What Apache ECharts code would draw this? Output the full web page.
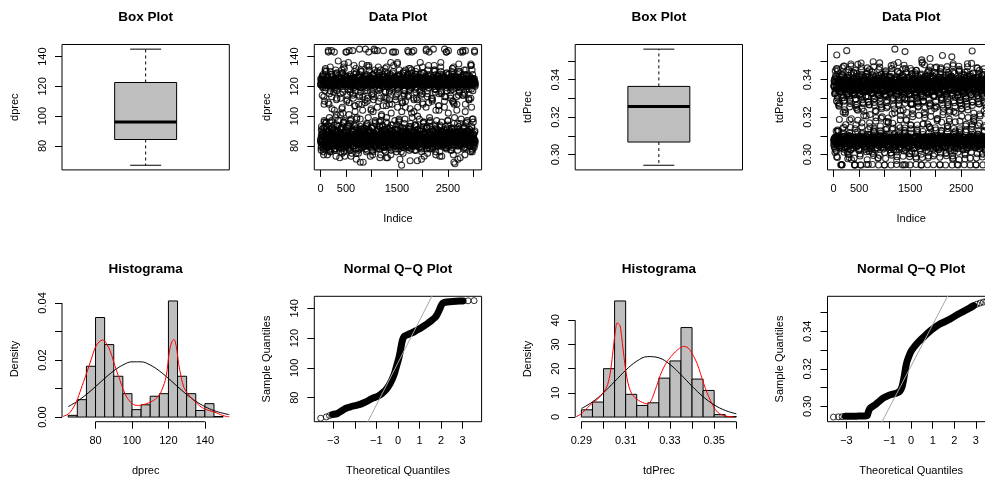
<!DOCTYPE html>
<html>
<head>
<meta charset="utf-8">
<script src="https://cdn.jsdelivr.net/npm/echarts@6/dist/echarts.min.js"></script>
<style>
  html, body { margin: 0; padding: 0; background: #fff; }
  #chart { width: 985px; height: 481px; }
</style>
</head>
<body>
<div id="chart"></div>
<script>
// ---------------------------------------------------------------
// Raw readings, four interleaved sets taken every 6th observation:
// set A starts at observation 1, B at 4, C at 2 and D at 5.
// ---------------------------------------------------------------
const nObs = 3039;
const obsStep = 6;
const obsOffsets = [1, 4, 2, 5];

const dprecObsA = [
  84,122,79,91,124,83,126,88,121,76,82,113,97,123,86,131,81,119,93,125,
  87,121,83,74,127,90,122,85,108,80,124,96,133,82,123,78,144,89,120,84,
  92,123,81,116,86,125,77,121,83,99,128,88,111,122,80,94,124,85,137,82,
  79,122,86,72,126,84,120,91,123,81,105,87,129,83,118,96,121,76,132,88,
  85,124,82,143,89,122,80,114,93,125,84,121,78,101,86,127,83,123,97,81,
  122,88,75,125,83,120,90,112,84,124,80,130,87,117,82,122,94,71,126,86,
  81,121,89,123,77,108,85,128,83,124,98,82,119,91,122,79,135,86,113,84,
  123,87,80,125,92,121,84,145,88,122,76,127,83,110,95,124,81,120,86,131,
  82,124,90,73,122,85,126,79,115,87,121,83,103,93,123,80,129,88,144,84,
  125,81,86,122,78,118,91,124,83,133,89,121,96,82,127,85,112,80,123,87,
  83,122,94,126,80,107,86,121,77,124,84,130,90,116,82,123,99,88,125,72,
  120,85,79,123,87,111,83,128,92,122,74,125,86,119,81,143,89,124,84,134,
  86,121,82,97,124,80,126,88,114,84,122,91,106,83,127,78,121,85,131,93,
  124,83,87,122,76,67,85,125,81,109,90,123,84,129,95,82,117,88,122,80,
  82,126,89,123,84,113,79,121,86,132,83,124,92,70,122,87,127,81,102,85,
  121,88,83,125,80,144,86,122,94,118,82,124,77,128,89,123,84,111,91,126,
  85,122,81,98,123,87,136,83,120,90,125,79,115,86,121,84,129,93,124,73,
  123,80,88,121,84,106,92,126,82,122,75,131,86,119,83,124,96,89,127,81,
  87,124,83,112,85,122,78,125,90,145,82,121,86,130,84,116,94,123,80,126,
  122,84,91,127,82,120,88,104,83,124,73,123,86,133,81,117,89,121,85,128,
  83,125,80,122,87,110,84,126,93,121,79,143,85,124,82,128,97,88,120,86,
  124,81,89,121,85,114,77,123,84,130,91,122,83,118,87,125,69,108,92,127,
  86,122,82,126,88,113,84,124,95,71,121,83,135,87,123,81,119,90,125,85,
  121,83,87,124,80,144,86,122,92,128,84,115,74,123,89,131,82,120,96,85,
  84,123,81,127,88,112,83,122,91,125,76,121,86,134,82,124,98,87,117,80,
  125,85,82,122,89,123,83
];

const dprecObsB = [
  121,85,124,80,88,127,83,119,92,122,78,125,86,110,81,123,95,84,130,89,
  82,123,87,126,79,144,84,121,91,115,86,124,76,128,83,122,97,88,120,81,
  124,80,86,122,83,104,90,125,85,121,73,129,87,117,82,123,93,84,126,79,
  88,122,81,125,85,112,92,123,78,131,84,121,89,102,83,124,96,86,127,82,
  123,84,90,121,80,143,87,126,83,118,94,122,81,109,85,125,77,128,88,120,
  85,124,82,123,89,114,80,122,86,134,91,125,83,107,87,121,75,124,99,84,
  122,87,83,126,81,120,88,145,85,123,93,116,79,124,84,130,90,121,86,69,
  80,125,86,122,84,111,89,127,82,121,95,123,77,119,87,124,83,133,91,85,
  126,83,88,121,81,105,86,124,92,122,74,128,84,113,89,123,80,120,97,87,
  84,123,80,125,87,144,83,121,90,117,85,126,78,122,93,131,82,124,88,101,
  122,86,84,124,79,120,91,127,83,123,87,112,81,125,96,72,121,85,129,89,
  87,121,82,126,85,108,90,123,80,136,84,122,88,118,83,125,94,86,124,81,
  125,82,89,122,84,143,87,121,76,127,83,115,91,124,85,120,98,80,123,86,
  83,124,86,121,81,110,88,125,92,122,79,130,85,117,87,123,82,106,90,126,
  121,85,80,123,87,128,83,114,89,124,77,122,84,132,95,125,86,119,81,143,
  86,122,83,125,90,103,85,121,80,127,88,124,82,112,93,123,70,126,87,84,
  124,81,87,122,85,117,91,126,83,121,78,129,86,109,84,123,96,88,120,82,
  89,123,84,127,80,144,86,122,93,115,83,125,88,134,81,121,99,85,124,87,
  122,84,82,124,86,111,79,123,90,126,85,120,83,131,89,125,76,118,92,86,
  85,121,88,125,83,107,87,122,81,128,94,124,84,116,86,123,73,127,90,82,
  123,86,81,122,89,145,84,126,87,113,82,121,91,129,85,124,97,80,122,88,
  82,125,85,123,88,119,83,121,92,126,79,110,86,124,84,133,90,122,87,68,
  126,83,87,121,84,104,89,124,80,122,86,130,93,117,82,125,88,143,85,123,
  84,122,90,127,82,114,86,123,78,121,88,125,83,108,95,124,81,128,87,120,
  121,87,83,124,85,118,91,122,80,126,84,112,89,123,77,131,86,125,98,82,
  88,124,84,144,81,122
];

const dprecObsC = [
  83,121,77,93,125,86,120,81,128,89,74,123,96,84,117,88,132,80,122,91,
  122,79,85,126,82,109,90,124,87,99,121,76,130,84,123,92,113,81,127,86,
  80,124,88,121,94,143,83,118,78,125,86,122,101,82,129,90,123,85,97,120,
  126,84,81,123,89,115,76,122,92,128,83,106,87,124,80,133,95,121,85,73,
  85,122,91,127,79,120,84,111,88,124,82,136,93,121,77,125,87,116,83,98,
  123,81,86,125,90,144,80,121,84,119,94,126,88,103,82,122,78,129,85,92,
  88,124,83,120,75,127,89,114,81,123,69,131,86,122,84,108,91,125,79,121,
  121,90,82,126,87,117,84,124,78,122,93,128,85,112,80,123,99,86,134,83,
  84,125,89,122,81,104,92,121,86,127,77,124,83,115,88,145,80,123,95,87,
  124,86,79,121,85,130,91,123,82,110,88,126,84,119,72,122,97,83,125,90,
  82,123,87,128,93,120,80,113,86,124,84,132,76,122,89,107,83,126,92,121,
  125,81,88,122,84,116,90,127,79,121,86,102,94,124,82,129,87,123,85,143,
  89,121,83,124,78,111,85,126,91,122,81,135,87,118,84,123,96,80,128,86,
  122,84,92,125,80,120,86,109,83,124,75,127,89,114,82,121,98,88,131,85,
  86,124,81,121,88,144,84,123,93,117,79,126,85,105,90,122,83,129,87,120,
  123,88,84,127,82,112,89,124,77,121,94,130,86,119,81,125,91,100,84,122,
  81,125,87,122,90,116,83,128,85,123,71,121,88,133,82,108,95,124,86,126,
  124,83,89,121,84,120,78,125,92,113,86,122,80,128,87,143,83,123,97,85,
  87,122,82,126,91,110,85,124,79,121,88,131,84,118,93,123,81,104,86,125,
  122,85,80,124,87,127,83,115,90,121,76,125,84,136,89,122,96,82,120,88,
  84,123,91,121,86,106,81,126,88,124,83,129,78,117,85,122,94,87,144,82,
  125,88,83,122,80,112,86,127,92,120,84,132,89,123,74,109,85,124,99,81,
  86,121,82,125,89,119,84,122,77,128,90,114,83,123,87,130,81,121,95,85,
  123,84,88,126,81,143,85,121,93,116,79,124,87,103,83,127,90,122,86,97,
  82,124,86,121,90,111,84,125,80,122,88,134,83,118,92,123,76,128,85,121,
  87,123,79,125,84,120
];

const dprecObsD = [
  125,82,87,121,90,114,84,123,79,127,86,108,92,122,81,130,88,124,96,83,
  84,122,80,126,88,143,85,120,93,124,77,117,86,123,82,128,91,105,87,121,
  122,87,83,125,78,119,89,122,85,131,81,124,94,112,86,121,80,127,90,84,
  88,123,84,121,91,101,82,126,87,122,75,129,85,116,89,124,83,135,97,80,
  121,86,81,124,89,110,84,123,92,127,79,121,87,144,83,125,95,118,85,73,
  83,125,90,122,85,115,80,121,88,128,84,107,93,123,86,132,82,120,98,87,
  124,81,87,122,84,126,91,113,78,123,86,130,83,119,89,121,85,104,92,125,
  86,121,82,127,88,109,85,124,80,122,94,134,87,117,83,123,90,143,84,126,
  122,89,84,125,81,120,87,114,92,121,76,128,85,111,88,124,82,131,96,86,
  85,124,80,122,90,106,83,126,87,123,81,129,93,118,86,121,74,125,89,100,
  123,84,88,121,82,144,86,124,79,127,91,116,84,122,87,133,83,112,95,85,
  81,122,89,125,85,117,92,121,83,128,77,123,86,108,90,124,84,130,88,120,
  126,87,82,123,86,113,80,125,94,121,85,136,88,119,83,122,97,87,127,71,
  84,121,90,124,81,103,87,122,85,129,79,125,92,115,86,123,82,110,89,121,
  122,83,86,127,88,120,84,143,91,124,80,118,85,126,93,122,78,131,87,99,
  87,125,83,121,89,111,82,123,86,128,94,116,84,124,80,132,88,106,85,122,
  124,85,79,122,87,126,90,114,83,121,76,125,88,119,84,123,96,81,129,86,
  83,123,88,125,85,145,81,122,92,117,86,127,84,109,89,121,78,124,93,82,
  121,86,84,124,80,112,87,126,90,122,83,134,85,118,91,123,74,128,88,97,
  85,122,89,127,82,120,86,107,84,125,93,121,80,130,87,115,83,123,90,126,
  123,88,81,121,86,113,84,125,79,122,89,143,85,119,92,124,82,102,87,128,
  86,124,83,122,90,117,85,121,77,126,88,132,84,110,81,123,95,127,86,121,
  122,84,87,125,83,108,91,123,85,120,80,129,88,116,84,124,72,121,89,98,
  81,123,86,126,88,114,84,122,92,131,79,125,85,144,87,121,83,118,90,124,
  124,85,89,121,82,111,86,127,80,123,87,135,84,106,93,122,78,125,88,96,
  85,122,83,143,90,121
];

const tdPrecObsA = [
  0.3072,0.3368,0.3041,0.3385,0.3325,0.3089,0.3412,0.3063,0.3351,0.3018,0.3531,0.3095,0.3302,0.3447,0.3057,0.3391,0.3124,0.3338,0.3078,0.3271,
  0.3359,0.3066,0.3394,0.2946,0.3318,0.3083,0.3372,0.3034,0.3463,0.3097,0.3345,0.3226,0.3069,0.3381,0.3012,0.3289,0.3406,0.3075,0.3362,0.3159,
  0.3081,0.3347,0.3058,0.3398,0.3106,0.3334,0.2978,0.3379,0.3068,0.3421,0.3091,0.3311,0.3254,0.3086,0.3366,0.3027,0.3483,0.3071,0.3353,0.3387,
  0.3062,0.3374,0.3047,0.3329,0.3093,0.3437,0.3076,0.3358,0.2945,0.3392,0.3138,0.3296,0.3084,0.3369,0.3039,0.3343,0.3241,0.3065,0.3401,0.3183,
  0.3383,0.3079,0.3352,0.3024,0.3415,0.3067,0.3321,0.3098,0.3373,0.2943,0.3468,0.3073,0.3337,0.3116,0.3362,0.3055,0.3279,0.3388,0.3082,0.3346,
  0.3069,0.3395,0.3043,0.3361,0.3087,0.3309,0.3206,0.3064,0.3378,0.3031,0.3432,0.3094,0.3341,0.2947,0.3386,0.3077,0.3264,0.3354,0.3148,0.3371,
  0.3085,0.3349,0.3052,0.3404,0.3074,0.3327,0.3014,0.3382,0.3099,0.3495,0.3061,0.3365,0.3121,0.3296,0.3071,0.3357,0.3233,0.3088,0.3419,0.3036,
  0.3376,0.3066,0.3342,0.3092,0.3389,0.2983,0.3318,0.3079,0.3453,0.3046,0.3367,0.3103,0.3283,0.3073,0.3392,0.3194,0.3059,0.3355,0.3086,0.3409,
  0.3064,0.3381,0.3029,0.3336,0.3097,0.3373,0.2944,0.3427,0.3068,0.3313,0.3133,0.3362,0.3081,0.3249,0.3049,0.3398,0.3076,0.3349,0.3171,0.3386,
  0.3359,0.3083,0.3412,0.3057,0.3328,0.3091,0.3375,0.3008,0.3474,0.3072,0.3344,0.3216,0.3094,0.3391,0.3038,0.3301,0.3363,0.3069,0.3383,0.3112,
  0.3562,0.3352,0.3044,0.3397,0.3087,0.3323,0.2969,0.3369,0.3062,0.3441,0.3099,0.3338,0.3271,0.3075,0.3384,0.3026,0.3357,0.3143,0.3406,0.3066,
  0.3388,0.3071,0.3346,0.3053,0.3413,0.3084,0.3306,0.3237,0.3067,0.3371,0.2946,0.3395,0.3093,0.3332,0.3119,0.3458,0.3061,0.3364,0.3035,0.3291,
  0.3073,0.3379,0.3048,0.3339,0.3096,0.3403,0.3063,0.3356,0.3004,0.3319,0.3088,0.3387,0.3158,0.3268,0.3077,0.3424,0.3052,0.3348,0.3202,0.3374,
  0.3351,0.3086,0.3393,0.3033,0.3331,0.3069,0.3436,0.3095,0.3366,0.2987,0.3385,0.3074,0.3297,0.3128,0.3361,0.3058,0.3253,0.3408,0.3082,0.3343,
  0.3065,0.3372,0.3021,0.3396,0.3091,0.3316,0.2945,0.3382,0.3078,0.3487,0.3046,0.3353,0.3107,0.3284,0.3072,0.3369,0.3224,0.3094,0.3418,0.3059,
  0.3384,0.3068,0.3347,0.3041,0.3399,0.3085,0.3326,0.3163,0.3376,0.3013,0.3445,0.3079,0.3358,0.3097,0.3274,0.3512,0.3391,0.3136,0.3337,0.3071,
  0.3076,0.3363,0.3054,0.3411,0.3089,0.3335,0.2993,0.3378,0.3067,0.3309,0.3246,0.3083,0.3397,0.3037,0.3354,0.3098,0.3466,0.3062,0.3381,0.3189,
  0.3345,0.3074,0.3389,0.3028,0.3322,0.3092,0.3371,0.2944,0.3428,0.3061,0.3359,0.3115,0.3293,0.3081,0.3402,0.3047,0.3366,0.3212,0.3087,0.3377,
  0.3063,0.3392,0.3039,0.3341,0.3095,0.3383,0.3006,0.3314,0.3077,0.3451,0.3058,0.3368,0.3139,0.3259,0.3072,0.3394,0.3085,0.3352,0.3176,0.3408,
  0.3373,0.3081,0.3356,0.3019,0.3417,0.3066,0.3329,0.3093,0.3386,0.2975,0.3439,0.3075,0.3344,0.3229,0.3062,0.3379,0.3042,0.3305,0.3126,0.3362,
  0.3084,0.3349,0.3061,0.3396,0.2947,0.3332,0.3073,0.3374,0.3032,0.3471,0.3096,0.3357,0.3118,0.3287,0.3069,0.3401,0.3056,0.3339,0.3245,0.3385,
  0.3367,0.3078,0.3391,0.3045,0.3324,0.3089,0.3412,0.3064,0.3353,0.3009,0.3381,0.3152,0.3298,0.3083,0.3364,0.3027,0.3443,0.3071,0.3346,0.3197,
  0.3059,0.3388,0.3076,0.3335,0.3092,0.3404,0.2981,0.3369,0.3067,0.3317,0.3135,0.3359,0.3085,0.3262,0.3051,0.3395,0.3098,0.3354,0.3221,0.3376,
  0.3342,0.3079,0.3398,0.3036,0.3327,0.2945,0.3383,0.3065,0.3462,0.3088,0.3361,0.3109,0.3281,0.3074,0.3414,0.3043,0.3348,0.3167,0.3373,0.3063,
  0.3087,0.3365,0.3053,0.3389,0.3094,0.3319,0.3002,0.3377,0.3071,0.3426,0.3058,0.3344,0.3233,0.3082,0.3392,0.3024,0.3367,0.3147,0.3405,0.3068,
  0.3072,0.3079,0.3351,0.3358,0.3086,0.3064,0.3376
];

const tdPrecObsB = [
  0.3081,0.3362,0.3057,0.3405,0.3093,0.3331,0.3023,0.3387,0.3068,0.3459,0.3076,0.3348,0.3131,0.3276,0.3062,0.3393,0.3088,0.3356,0.3187,0.3374,
  0.3368,0.3074,0.3397,0.3048,0.3334,0.3091,0.3421,0.2946,0.3359,0.3065,0.3382,0.3113,0.3303,0.3079,0.3472,0.3038,0.3351,0.3219,0.3086,0.3388,
  0.3059,0.3379,0.3554,0.3344,0.3016,0.3412,0.3072,0.3326,0.3097,0.3366,0.2984,0.3395,0.3067,0.3285,0.3144,0.3358,0.3053,0.3436,0.3081,0.3341,
  0.3386,0.3063,0.3353,0.3092,0.3401,0.3035,0.3319,0.3078,0.3373,0.2945,0.3448,0.3069,0.3337,0.3251,0.3095,0.3384,0.3044,0.3363,0.3122,0.3392,
  0.3075,0.3346,0.3061,0.3391,0.3087,0.3312,0.3003,0.3377,0.3094,0.3488,0.3058,0.3359,0.3169,0.3292,0.3073,0.3414,0.3049,0.3335,0.3231,0.3369,
  0.3357,0.3085,0.3383,0.3027,0.3342,0.3066,0.3429,0.3099,0.3365,0.2972,0.3396,0.3079,0.3308,0.3108,0.3376,0.3055,0.3267,0.3453,0.3071,0.3349,
  0.3064,0.3391,0.3046,0.3363,0.3089,0.3326,0.2947,0.3384,0.3073,0.3419,0.3091,0.3344,0.3141,0.3278,0.3058,0.3398,0.3083,0.3355,0.3196,0.3381,
  0.3372,0.3077,0.3349,0.3033,0.3407,0.3094,0.3321,0.3062,0.3389,0.2996,0.3466,0.3081,0.3338,0.3127,0.3367,0.3051,0.3244,0.3393,0.3086,0.3352,
  0.3088,0.3369,0.3052,0.3396,0.3074,0.3315,0.3011,0.3374,0.3097,0.3441,0.3065,0.3361,0.3109,0.3288,0.3079,0.3403,0.3042,0.3347,0.3174,0.3385,
  0.3354,0.3068,0.3387,0.3039,0.3336,0.3085,0.3416,0.2944,0.3364,0.3072,0.3397,0.3134,0.3299,0.3091,0.3378,0.3026,0.3479,0.3063,0.3343,0.3222,
  0.3071,0.3382,0.3045,0.3358,0.3096,0.3404,0.2988,0.3323,0.3082,0.3371,0.3057,0.3392,0.3155,0.3263,0.3069,0.3433,0.3093,0.3346,0.3208,0.3377,
  0.3366,0.3084,0.3394,0.3031,0.3328,0.3076,0.3457,0.3061,0.3351,0.3019,0.3385,0.3112,0.3295,0.3088,0.3373,0.2946,0.3362,0.3182,0.3067,0.3408,
  0.3058,0.3375,0.3079,0.3339,0.3092,0.3411,0.3047,0.3368,0.3005,0.3317,0.3086,0.3389,0.3137,0.3274,0.3073,0.3447,0.3064,0.3357,0.3239,0.3383,
  0.3379,0.3065,0.3351,0.3094,0.3393,0.3037,0.3332,0.3071,0.3426,0.2979,0.3363,0.3083,0.3306,0.3118,0.3397,0.3054,0.3258,0.3369,0.3098,0.3346,
  0.3082,0.3358,0.3063,0.3384,0.3075,0.3324,0.2945,0.3371,0.3089,0.3493,0.3052,0.3347,0.3162,0.3286,0.3068,0.3402,0.3095,0.3361,0.3213,0.3376,
  0.3347,0.3076,0.3398,0.3022,0.3337,0.3091,0.3418,0.3066,0.3372,0.2992,0.3451,0.3074,0.3329,0.3145,0.3387,0.3049,0.3269,0.3356,0.3084,0.3391,
  0.3069,0.3365,0.3055,0.3406,0.3097,0.3313,0.3028,0.3381,0.3078,0.3437,0.3062,0.3354,0.3104,0.3281,0.3086,0.3395,0.3041,0.3368,0.3192,0.3359,
  0.3385,0.3072,0.3343,0.3036,0.3409,0.3087,0.3327,0.2947,0.3377,0.3065,0.3462,0.3129,0.3301,0.3093,0.3366,0.3528,0.3394,0.3227,0.3079,0.3352,
  0.3061,0.3388,0.3083,0.3334,0.3046,0.3414,0.3074,0.3362,0.3009,0.3322,0.3096,0.3376,0.3153,0.3266,0.3067,0.3428,0.3058,0.3345,0.3235,0.3397,
  0.3373,0.3089,0.3356,0.3043,0.3401,0.3068,0.3314,0.3081,0.3382,0.2981,0.3484,0.3072,0.3342,0.3117,0.3369,0.3034,0.3256,0.3392,0.3094,0.3348,
  0.3077,0.3367,0.3059,0.3391,0.3085,0.3331,0.2944,0.3379,0.3066,0.3445,0.3092,0.3358,0.3178,0.3291,0.3071,0.3405,0.3048,0.3364,0.3204,0.3386,
  0.3359,0.3075,0.3388,0.3025,0.3325,0.3093,0.3423,0.3063,0.3353,0.2999,0.3398,0.3081,0.3309,0.3132,0.3374,0.3056,0.3272,0.3468,0.3069,0.3343,
  0.3084,0.3376,0.3051,0.3346,0.3097,0.3417,0.3038,0.3384,0.3073,0.3318,0.3065,0.3395,0.3149,0.3279,0.3089,0.3435,0.3062,0.3352,0.3186,0.3371,
  0.3381,0.3067,0.3349,0.3091,0.3396,0.2946,0.3336,0.3078,0.3411,0.3044,0.3366,0.3106,0.3297,0.3084,0.3379,0.3029,0.3449,0.3216,0.3071,0.3357,
  0.3066,0.3392,0.3088,0.3338,0.3054,0.3424,0.3007,0.3369,0.3095,0.3311,0.3072,0.3383,0.3121,0.3284,0.3061,0.3399,0.3079,0.3344,0.3248,0.3375,
  0.3338,0.3082,0.3409,0.3361,0.3046,0.3058
];

const tdPrecObsC = [
  0.3052,0.3391,0.3087,0.3324,0.3011,0.3447,0.3068,0.3362,0.3125,0.3286,0.3079,0.3405,0.2985,0.3351,0.3094,0.3377,0.3061,0.3258,0.3418,0.3036,
  0.3369,0.3074,0.3335,0.3047,0.3392,0.2946,0.3426,0.3083,0.3303,0.3139,0.3359,0.3066,0.3471,0.3028,0.3382,0.3097,0.3239,0.3344,0.3071,0.3398,
  0.3089,0.3356,0.3043,0.3411,0.3076,0.3317,0.3003,0.3387,0.3062,0.3452,0.3101,0.3365,0.3184,0.3272,0.3057,0.3394,0.3085,0.3338,0.2974,0.3379,
  0.3363,0.3069,0.3403,0.3034,0.3328,0.3092,0.3436,0.3058,0.3374,0.2945,0.3349,0.3118,0.3295,0.3081,0.3415,0.3046,0.3267,0.3388,0.3073,0.3481,
  0.3078,0.3381,0.3022,0.3346,0.3095,0.3399,0.2992,0.3321,0.3066,0.3428,0.3087,0.3358,0.3147,0.3246,0.3054,0.3372,0.3099,0.3407,0.3208,0.3343,
  0.3392,0.3063,0.3339,0.3041,0.3417,0.3079,0.3309,0.2947,0.3384,0.3072,0.3462,0.3108,0.3282,0.3091,0.3366,0.3017,0.3395,0.3169,0.3067,0.3352,
  0.3057,0.3373,0.3086,0.3331,0.3031,0.3441,0.3075,0.3389,0.3006,0.3314,0.3093,0.3361,0.3132,0.3261,0.3064,0.3409,0.3082,0.3347,0.3229,0.3386,
  0.3346,0.3084,0.3397,0.3049,0.3327,0.2979,0.3421,0.3069,0.3368,0.3098,0.3489,0.3074,0.3301,0.3113,0.3383,0.3039,0.3253,0.3354,0.3088,0.3412,
  0.3071,0.3388,0.3053,0.3342,0.3096,0.3404,0.2944,0.3376,0.3062,0.3431,0.3085,0.3318,0.3176,0.3277,0.3048,0.3367,0.3092,0.3396,0.3195,0.3357,
  0.3378,0.3066,0.3351,0.3027,0.3414,0.3083,0.3322,0.3072,0.3393,0.2997,0.3458,0.3094,0.3336,0.3141,0.3371,0.3059,0.3263,0.3385,0.3077,0.3347,
  0.3085,0.3362,0.3044,0.3399,0.3073,0.3311,0.3014,0.3382,0.3091,0.3444,0.3065,0.3355,0.3119,0.3289,0.3081,0.3408,0.3037,0.3369,0.3234,0.3391,
  0.3359,0.3078,0.3384,0.3055,0.3333,0.2945,0.3418,0.3063,0.3375,0.3089,0.3476,0.3129,0.3297,0.3549,0.3401,0.3024,0.3349,0.3187,0.3096,0.3388,
  0.3062,0.3396,0.3081,0.3337,0.3042,0.3413,0.3076,0.3363,0.2989,0.3325,0.3094,0.3372,0.3157,0.3268,0.3068,0.3432,0.3051,0.3353,0.3217,0.3394,
  0.3371,0.3088,0.3345,0.3033,0.3406,0.3069,0.3319,0.3097,0.3386,0.2947,0.3449,0.3075,0.3328,0.3136,0.3377,0.3046,0.3274,0.3398,0.3083,0.3356,
  0.3074,0.3387,0.3059,0.3353,0.3092,0.3423,0.3002,0.3365,0.3079,0.3308,0.3067,0.3391,0.3164,0.3283,0.3086,0.3411,0.3038,0.3341,0.3249,0.3374,
  0.3364,0.3071,0.3399,0.3048,0.3331,0.3093,0.3437,0.3061,0.3358,0.2983,0.3383,0.3115,0.3292,0.3084,0.3409,0.3032,0.3467,0.3203,0.3077,0.3345,
  0.3089,0.3376,0.3045,0.3339,0.3065,0.3416,0.2946,0.3381,0.3094,0.3316,0.3072,0.3397,0.3143,0.3259,0.3056,0.3426,0.3083,0.3362,0.3181,0.3392,
  0.3352,0.3079,0.3389,0.3026,0.3336,0.3091,0.3412,0.3067,0.3371,0.3008,0.3455,0.3098,0.3304,0.3124,0.3393,0.3052,0.3265,0.3379,0.3073,0.3348,
  0.3066,0.3383,0.3087,0.3344,0.3041,0.3404,0.3072,0.3359,0.2994,0.3323,0.3085,0.3368,0.3151,0.3278,0.3063,0.3438,0.3095,0.3341,0.3226,0.3387,
  0.3385,0.3074,0.3348,0.3035,0.3419,0.3082,0.3521,0.2944,0.3378,0.3061,0.3474,0.3107,0.3287,0.3093,0.3364,0.3019,0.3401,0.3174,0.3068,0.3355,
  0.3078,0.3369,0.3054,0.3392,0.3096,0.3312,0.3012,0.3386,0.3071,0.3446,0.3063,0.3357,0.3138,0.3273,0.3084,0.3415,0.3047,0.3346,0.3241,0.3381,
  0.3358,0.3083,0.3395,0.3029,0.3338,0.3069,0.3427,0.3091,0.3367,0.2976,0.3391,0.3121,0.3299,0.3076,0.3406,0.3058,0.3255,0.3484,0.3064,0.3349,
  0.3072,0.3392,0.3049,0.3343,0.3088,0.3418,0.2945,0.3373,0.3097,0.3321,0.3061,0.3384,0.3161,0.3281,0.3075,0.3431,0.3043,0.3365,0.3199,0.3396,
  0.3374,0.3066,0.3352,0.3037,0.3411,0.3085,0.3332,0.3073,0.3389,0.3004,0.3461,0.3094,0.3315,0.3128,0.3378,0.3051,0.3269,0.3399,0.3079,0.3344,
  0.3087,0.3366,0.3056,0.3403,0.3071,0.3326,0.2987,0.3382,0.3093,0.3439,0.3064,0.3354,0.3154,0.3276,0.3082,0.3394,0.3039,0.3361,0.3218,0.3385,
  0.3329,0.3068,0.3402,0.3372,0.2947,0.3084
];

const tdPrecObsD = [
  0.3364,0.3077,0.3398,0.3033,0.3343,0.3091,0.3421,0.3058,0.3371,0.2988,0.3456,0.3084,0.3311,0.3126,0.3388,0.3045,0.3264,0.3402,0.3069,0.3354,
  0.3086,0.3381,0.3061,0.3337,0.3094,0.3413,0.2945,0.3368,0.3072,0.3427,0.3053,0.3359,0.3146,0.3284,0.3079,0.3394,0.3037,0.3349,0.3227,0.3376,
  0.3353,0.3068,0.3386,0.3042,0.3324,0.3089,0.3438,0.3075,0.3362,0.3001,0.3392,0.3117,0.3294,0.3097,0.3407,0.3024,0.3473,0.3191,0.3064,0.3345,
  0.3074,0.3393,0.3051,0.3346,0.3083,0.3404,0.2981,0.3377,0.3066,0.3318,0.3092,0.3385,0.3159,0.3262,0.3071,0.3433,0.3047,0.3366,0.3236,0.3391,
  0.3381,0.3063,0.3354,0.3029,0.3416,0.3087,0.3327,0.2946,0.3374,0.3078,0.3452,0.3111,0.3306,0.3085,0.3397,0.3055,0.3271,0.3363,0.3094,0.3348,
  0.3067,0.3372,0.3043,0.3398,0.3096,0.3335,0.3015,0.3384,0.3079,0.3442,0.3062,0.3356,0.3133,0.3279,0.3088,0.3414,0.3034,0.3342,0.3213,0.3387,
  0.3359,0.3082,0.3391,0.3048,0.3331,0.3073,0.3425,0.3065,0.3369,0.2995,0.3468,0.3124,0.3298,0.3091,0.3401,0.3027,0.3351,0.3178,0.3086,0.3378,
  0.3061,0.3385,0.3076,0.3339,0.3054,0.3409,0.2944,0.3365,0.3093,0.3314,0.3069,0.3394,0.3152,0.3266,0.3081,0.3429,0.3058,0.3357,0.3201,0.3383,
  0.3376,0.3074,0.3344,0.3036,0.3418,0.3089,0.3323,0.3063,0.3389,0.2979,0.3447,0.3098,0.3309,0.3137,0.3373,0.3049,0.3257,0.3396,0.3075,0.3351,
  0.3083,0.3368,0.3046,0.3392,0.3072,0.3329,0.3009,0.3381,0.3095,0.3436,0.3064,0.3361,0.3167,0.3287,0.3076,0.3405,0.3052,0.3347,0.3243,0.3374,
  0.3362,0.3071,0.3399,0.3025,0.3336,0.2947,0.3413,0.3084,0.3367,0.3059,0.3491,0.3105,0.3302,0.3078,0.3387,0.3041,0.3353,0.3185,0.3092,0.3395,
  0.3069,0.3383,0.3057,0.3341,0.3087,0.3422,0.2991,0.3372,0.3066,0.3319,0.3094,0.3389,0.3142,0.3273,0.3063,0.3437,0.3081,0.3358,0.3224,0.3376,
  0.3387,0.3076,0.3349,0.3038,0.3411,0.3068,0.3326,0.3091,0.3379,0.2945,0.3459,0.3114,0.3296,0.3083,0.3366,0.3018,0.3268,0.3402,0.3072,0.3345,
  0.3074,0.3371,0.3052,0.3396,0.3089,0.3315,0.3006,0.3384,0.3065,0.3448,0.3097,0.3352,0.3158,0.3282,0.3058,0.3417,0.3043,0.3363,0.3209,0.3391,
  0.3353,0.3085,0.3384,0.3031,0.3338,0.3079,0.3429,0.3505,0.3374,0.2984,0.3393,0.3123,0.3305,0.3092,0.3408,0.3049,0.3479,0.3196,0.3067,0.3347,
  0.3066,0.3394,0.3083,0.3332,0.3044,0.3406,0.2946,0.3377,0.3075,0.3321,0.3088,0.3368,0.3149,0.3259,0.3061,0.3431,0.3095,0.3355,0.3232,0.3386,
  0.3372,0.3068,0.3345,0.3053,0.3419,0.3093,0.3311,0.3077,0.3391,0.3003,0.3463,0.3085,0.3339,0.3131,0.3364,0.3035,0.3253,0.3398,0.3062,0.3356,
  0.3089,0.3379,0.3048,0.3401,0.3071,0.3327,0.2986,0.3368,0.3094,0.3441,0.3057,0.3361,0.3172,0.3289,0.3082,0.3412,0.3039,0.3344,0.3247,0.3382,
  0.3366,0.3079,0.3392,0.3042,0.3334,0.2944,0.3424,0.3066,0.3357,0.3088,0.3469,0.3119,0.3299,0.3073,0.3403,0.3028,0.3348,0.3189,0.3096,0.3389,
  0.3063,0.3388,0.3085,0.3343,0.3051,0.3415,0.3074,0.3371,0.2993,0.3322,0.3092,0.3395,0.3139,0.3276,0.3069,0.3434,0.3056,0.3359,0.3221,0.3378,
  0.3384,0.3072,0.3352,0.3034,0.3407,0.3086,0.3318,0.3067,0.3386,0.2973,0.3454,0.3103,0.3308,0.3127,0.3371,0.3045,0.3261,0.3399,0.3078,0.3342,
  0.3077,0.3365,0.3058,0.3397,0.3094,0.3336,0.2946,0.3383,0.3062,0.3439,0.3083,0.3354,0.3161,0.3285,0.3071,0.3418,0.3037,0.3369,0.3238,0.3393,
  0.3357,0.3081,0.3389,0.3047,0.3328,0.3069,0.3428,0.3091,0.3375,0.3013,0.3486,0.3108,0.3552,0.3076,0.3406,0.3053,0.3346,0.3177,0.3064,0.3381,
  0.3088,0.3373,0.3044,0.3349,0.3072,0.3411,0.2982,0.3367,0.3095,0.3313,0.3061,0.3392,0.3154,0.3271,0.3084,0.3427,0.3049,0.3362,0.3206,0.3388,
  0.3369,0.3066,0.3396,0.3039,0.3341,0.3087,0.3419,0.2945,0.3364,0.3075,0.3457,0.3128,0.3303,0.3089,0.3377,0.3022,0.3266,0.3384,0.3071,0.3355,
  0.3341,0.3074,0.3417,0.3349,0.3057,0.3062
];

// Five-number summaries: [lower whisker, Q1, median, Q3, upper whisker]
const dprecBox = [67, 84.3, 96, 122.6, 145];
const tdPrecBox = [0.2943, 0.3067, 0.3257, 0.3364, 0.3563];

// Histogram breaks and densities
const dprecBreaks = [65,70,75,80,85,90,95,100,105,110,115,120,125,130,135,140,145,150];
const dprecDensity = [0.0006,0.0061,0.0178,0.0349,0.0254,0.0143,0.0082,0.0026,0.0043,0.0073,0.0082,0.0407,0.0143,0.0082,0.0023,0.0047,0.0002];
const tdPrecBreaks = [0.290,0.295,0.300,0.305,0.310,0.315,0.320,0.325,0.330,0.335,0.340,0.345,0.350,0.355,0.360];
const tdPrecDensity = [3.0,6.2,20.0,48.0,9.4,4.8,5.9,16.1,23.2,37.0,15.7,11.0,1.0,0.2];

// Kernel density estimates (red) and fitted normal densities (black)
const dprecKde = [
  [62,0.0002],[65,0.0010],[67,0.0025],[69.5,0.0053],[72,0.0098],[75,0.0152],[77.5,0.0200],[80,0.0246],
  [82,0.0264],[84,0.0270],[86,0.0258],[88,0.0232],[89.7,0.0199],[91.5,0.0163],[93.4,0.0129],[95.2,0.0097],
  [97.1,0.0070],[99,0.0054],[100.8,0.0044],[102.6,0.0041],[104.5,0.0041],[106.3,0.0044],[108.2,0.0047],
  [110,0.0052],[111.8,0.0058],[113.7,0.0068],[115.5,0.0082],[117,0.0105],[118.3,0.0129],[119.3,0.0165],
  [120.1,0.0211],[121,0.0245],[122,0.0265],[123,0.0272],[123.8,0.0263],[124.7,0.0232],[125.6,0.0187],
  [127,0.0140],[128.4,0.0105],[130.2,0.0085],[132.1,0.0070],[134,0.0058],[135.8,0.0047],[138,0.0035],
  [140.4,0.0027],[142.7,0.0022],[145,0.0018],[147.3,0.0012],[149.6,0.0006],[152,0.0002],[153.4,0.0001]
];
const dprecNormal = [
  [65,0.00366],[70,0.00555],[75,0.00793],[80,0.01068],[85,0.01355],[90,0.01619],[95,0.01824],
  [100,0.01936],[105,0.01936],[110,0.01824],[115,0.01619],[120,0.01355],[125,0.01068],[130,0.00793],
  [135,0.00555],[140,0.00366],[145,0.00227],[150,0.00133],[153.4,0.00085]
];
const tdPrecKde = [
  [0.2875,0.1],[0.2900,1.4],[0.2938,4.8],[0.2983,8.3],[0.3014,12.4],[0.3028,17],[0.3036,22],[0.3045,29],
  [0.3052,34.5],[0.3062,38.9],[0.3074,37.9],[0.3082,33],[0.3089,27.6],[0.3097,21.5],[0.3105,16.6],
  [0.3115,12.5],[0.3127,9.7],[0.3142,8.0],[0.3158,6.9],[0.3177,6.0],[0.3195,5.5],[0.3211,6.2],[0.3222,8.2],
  [0.3233,11.0],[0.3245,14.2],[0.3256,17.2],[0.3271,20.3],[0.3286,22.8],[0.3305,25.0],[0.3324,26.9],
  [0.3343,28.4],[0.3362,29.2],[0.3377,28.9],[0.3392,27.6],[0.3408,25.0],[0.3423,22.1],[0.3438,18.0],
  [0.3453,13.8],[0.3468,10.0],[0.3483,6.9],[0.3498,4.2],[0.3514,2.1],[0.3533,1.0],[0.3552,0.4],[0.3590,0.05]
];
const tdPrecNormal = [
  [0.290,3.53],[0.295,6.26],[0.300,10.06],[0.305,14.65],[0.310,19.33],[0.315,23.09],[0.320,24.99],
  [0.325,24.50],[0.330,21.75],[0.335,17.50],[0.340,12.75],[0.345,8.42],[0.350,5.04],[0.355,2.73],[0.360,1.34]
];

// Normal Q-Q: (theoretical quantile, sample quantile) along the body, plus isolated tail points
const dprecQQ = [
  [-3.03,68.7],[-2.81,69.3],[-2.65,70.8],[-2.51,72.1],[-2.35,73.2],[-2.2,73.9],[-2.05,74.5],[-1.89,75.0],
  [-1.73,75.7],[-1.58,76.6],[-1.43,77.6],[-1.28,78.9],[-1.12,79.9],[-0.97,80.7],[-0.81,82.1],[-0.66,83.9],
  [-0.54,85.7],[-0.43,87.9],[-0.33,90.5],[-0.23,93.6],[-0.15,96.8],[-0.08,100.4],[-0.01,104.0],[0.05,107.2],
  [0.10,110.6],[0.14,113.9],[0.19,117.6],[0.24,120.0],[0.32,121.5],[0.49,122.6],[0.68,123.8],[0.87,125.3],
  [1.06,126.8],[1.26,128.7],[1.42,130.4],[1.57,132.1],[1.70,133.6],[1.80,135.5],[1.88,137.8],[1.95,140.0],
  [2.01,142.0],[2.07,143.4],[2.2,144.1],[2.41,144.5],[2.7,144.8],[3.02,145.0]
];
const dprecQQTails = [[-3.58,66.2],[-3.32,67.1],[-3.17,68.0],[3.25,145.1],[3.53,145.2]];
const tdPrecQQ = [
  [-3.05,0.2947],[-2.75,0.2947],[-2.45,0.2948],[-2.15,0.2949],[-2.03,0.2952],[-1.98,0.2972],[-1.9,0.2990],
  [-1.8,0.2999],[-1.65,0.3010],[-1.45,0.3030],[-1.25,0.3047],[-1.05,0.3058],[-0.85,0.3065],[-0.65,0.3072],
  [-0.52,0.3082],[-0.45,0.3096],[-0.40,0.3115],[-0.35,0.3142],[-0.30,0.3175],[-0.25,0.3210],[-0.19,0.3240],
  [-0.12,0.3262],[-0.02,0.3290],[0.15,0.3318],[0.35,0.3345],[0.6,0.3372],[0.95,0.3408],[1.35,0.3440],
  [1.8,0.3465],[2.15,0.3490],[2.6,0.3517],[2.9,0.3537]
];
const tdPrecQQTails = [[-3.6,0.2943],[-3.37,0.2944],[-3.2,0.2945],[3.05,0.3545],[3.2,0.3551],[3.35,0.3556],[3.5,0.3561]];
const qqExtreme = 3.59;        // largest |theoretical quantile| for n = 3039
const qnorm75 = 0.6745;        // standard normal upper quartile

// Tick positions and labelled ticks
const dprecTicks = [80,100,120,140];
const tdPrecTicks = [0.30,0.31,0.32,0.33,0.34,0.35];
const tdPrecTickLabels = [0.30,0.32,0.34];
const indexTicks = [0,500,1000,1500,2000,2500,3000];
const indexTickLabels = [0,500,1500,2500];
const qqTicks = [-3,-2,-1,0,1,2,3];
const qqTickLabels = [-3,-1,0,1,2,3];
const dprecHistXTicks = [80,100,120,140];
const dprecHistYTicks = [0,0.01,0.02,0.03,0.04];
const dprecHistYLabels = [0,0.02,0.04];
const tdPrecHistXTicks = [0.29,0.30,0.31,0.32,0.33,0.34,0.35,0.36];
const tdPrecHistXLabels = [0.29,0.31,0.33,0.35];
const tdPrecHistYTicks = [0,10,20,30,40];

// ---------------------------------------------------------------
// Layout: 2 x 4 panels
// ---------------------------------------------------------------
const COLS = [62, 314.3, 575.2, 827.5];
const ROWS = [44.5, 296.3];
const PW = 167.3, PH = 125.4;
const FONT = '"Liberation Sans", Arial, Helvetica, sans-serif';
const GRAY = '#bebebe';

const grids = [], xAxes = [], yAxes = [], series = [], texts = [];

const minus = s => String(s).replace('-', '\u2212');
const fmtInt = v => minus(Math.round(v));
const fmt2 = v => v.toFixed(2);
const padRange = (lo, hi) => { const d = (hi - lo) * 0.04; return [lo - d, hi + d]; };
const arrMin = a => Math.min.apply(null, a);
const arrMax = a => Math.max.apply(null, a);

function makeAxis(dim, gi, a) {
  return {
    type: 'value', gridIndex: gi, min: a.min, max: a.max, show: !a.hidden,
    splitLine: { show: false },
    axisLine: { show: false, onZero: false },
    axisTick: { show: !!a.ticks, customValues: a.ticks, length: 7, inside: false,
                lineStyle: { color: '#000', width: 1 } },
    axisLabel: { show: !!a.labels, customValues: a.labels, formatter: a.fmt, margin: 14,
                 color: '#000', fontSize: 11, fontFamily: FONT, rotate: dim === 'y' ? 90 : 0,
                 hideOverlap: false },
    name: a.name || '', nameLocation: 'middle', nameGap: dim === 'y' ? 42 : 43.5,
    nameMoveOverlap: false,
    nameTextStyle: { color: '#000', fontSize: 11, fontFamily: FONT }
  };
}

function addPanel(col, row, cfg) {
  const gi = grids.length;
  grids.push({
    left: COLS[col], top: ROWS[row], width: PW, height: PH,
    show: !!cfg.box, borderColor: '#000', borderWidth: 1, backgroundColor: 'transparent',
    containLabel: false, outerBoundsMode: 'none'
  });
  xAxes.push(makeAxis('x', gi, cfg.x));
  yAxes.push(makeAxis('y', gi, cfg.y));
  texts.push({
    type: 'text', x: COLS[col] + PW / 2, y: ROWS[row] - 27.5, silent: true,
    style: { text: cfg.title, font: 'bold 13.5px ' + FONT, fill: '#000',
             textAlign: 'center', textVerticalAlign: 'middle' }
  });
  return gi;
}

function onGrid(gi, s) {
  return Object.assign({ xAxisIndex: gi, yAxisIndex: gi, silent: true, animation: false }, s);
}

// Box plot with dashed whiskers, short caps and a heavy median bar
function renderBox(params, api) {
  const x = api.value(0);
  const mn = api.value(1), q1 = api.value(2), md = api.value(3), q3 = api.value(4), mx = api.value(5);
  const P = (a, b) => api.coord([a, b]);
  const seg = (p, q, st) => ({ type: 'line', shape: { x1: p[0], y1: p[1], x2: q[0], y2: q[1] },
                                style: Object.assign({ stroke: '#000', lineWidth: 1, fill: null }, st || {}) });
  const tl = P(x - 0.2, q3), br = P(x + 0.2, q1);
  return { type: 'group', children: [
    seg(P(x, q3), P(x, mx), { lineDash: [3, 3] }),
    seg(P(x, q1), P(x, mn), { lineDash: [3, 3] }),
    seg(P(x - 0.1, mx), P(x + 0.1, mx)),
    seg(P(x - 0.1, mn), P(x + 0.1, mn)),
    { type: 'rect', shape: { x: tl[0], y: tl[1], width: br[0] - tl[0], height: br[1] - tl[1] },
      style: { fill: GRAY, stroke: '#000', lineWidth: 1 } },
    seg(P(x - 0.2, md), P(x + 0.2, md), { lineWidth: 3 })
  ]};
}

function renderBar(params, api) {
  const p0 = api.coord([api.value(0), api.value(2)]);
  const p1 = api.coord([api.value(1), 0]);
  return { type: 'rect', shape: { x: p0[0], y: p0[1], width: p1[0] - p0[0], height: p1[1] - p0[1] },
           style: { fill: GRAY, stroke: '#000', lineWidth: 1 } };
}

function boxPanel(col, row, stats, yr, yTicks, yLabels, yFmt, yName) {
  const gi = addPanel(col, row, {
    title: 'Box Plot', box: true,
    x: { min: 0.46, max: 1.54, hidden: true },
    y: { min: yr[0], max: yr[1], ticks: yTicks, labels: yLabels, fmt: yFmt, name: yName }
  });
  series.push(onGrid(gi, { type: 'custom', renderItem: renderBox, clip: false,
    encode: { x: 0, y: [1, 2, 3, 4, 5] }, data: [[1].concat(stats)] }));
}

const circleStyle = { color: 'rgba(0,0,0,0)', borderColor: '#000', borderWidth: 1.1 };

function dataPanel(col, row, sets, yr, yTicks, yLabels, yFmt, yName) {
  const xr = padRange(1, nObs);
  const gi = addPanel(col, row, {
    title: 'Data Plot', box: true,
    x: { min: xr[0], max: xr[1], ticks: indexTicks, labels: indexTickLabels, fmt: fmtInt, name: 'Indice' },
    y: { min: yr[0], max: yr[1], ticks: yTicks, labels: yLabels, fmt: yFmt, name: yName }
  });
  sets.forEach((values, k) => {
    series.push(onGrid(gi, { type: 'scatter', symbol: 'circle', symbolSize: 6, clip: true,
      large: false, progressive: 0, itemStyle: circleStyle,
      data: values.map((v, i) => [obsOffsets[k] + i * obsStep, v]) }));
  });
}

function histPanel(col, row, breaks, dens, kde, normal, xTicks, xLabels, xFmt, yTicks, yLabels, yFmt, xName) {
  const xr = padRange(breaks[0], breaks[breaks.length - 1]);
  const yr = padRange(0, arrMax(dens));
  const gi = addPanel(col, row, {
    title: 'Histograma', box: false,
    x: { min: xr[0], max: xr[1], ticks: xTicks, labels: xLabels, fmt: xFmt, name: xName },
    y: { min: yr[0], max: yr[1], ticks: yTicks, labels: yLabels, fmt: yFmt, name: 'Density' }
  });
  series.push(onGrid(gi, { type: 'custom', renderItem: renderBar, clip: true,
    encode: { x: [0, 1], y: 2 },
    data: dens.map((d, i) => [breaks[i], breaks[i + 1], d]) }));
  // axis lines run from the first to the last tick only
  const axisSeg = data => onGrid(gi, { type: 'line', data, symbol: 'none', clip: false,
    lineStyle: { color: '#000', width: 1 } });
  series.push(axisSeg([[xTicks[0], yr[0]], [xTicks[xTicks.length - 1], yr[0]]]));
  series.push(axisSeg([[xr[0], yTicks[0]], [xr[0], yTicks[yTicks.length - 1]]]));
  series.push(onGrid(gi, { type: 'line', data: normal, symbol: 'none', smooth: 0.4, clip: true,
    lineStyle: { color: '#000', width: 1 } }));
  series.push(onGrid(gi, { type: 'line', data: kde, symbol: 'none', smooth: 0.3, clip: true,
    lineStyle: { color: '#ff0000', width: 1 } }));
}

function qqPanel(col, row, body, tails, quartiles, yr, yTicks, yLabels, yFmt) {
  const xr = padRange(-qqExtreme, qqExtreme);
  const gi = addPanel(col, row, {
    title: 'Normal Q\u2212Q Plot', box: true,
    x: { min: xr[0], max: xr[1], ticks: qqTicks, labels: qqTickLabels, fmt: fmtInt, name: 'Theoretical Quantiles' },
    y: { min: yr[0], max: yr[1], ticks: yTicks, labels: yLabels, fmt: yFmt, name: 'Sample Quantiles' }
  });
  series.push(onGrid(gi, { type: 'line', data: body, symbol: 'none', smooth: 0.2, clip: true,
    lineStyle: { color: '#000', width: 7, cap: 'round', join: 'round' } }));
  series.push(onGrid(gi, { type: 'scatter', data: tails, symbol: 'circle', symbolSize: 6, clip: true,
    itemStyle: { color: 'rgba(0,0,0,0)', borderColor: '#000', borderWidth: 1 } }));
  // reference line through the first and third quartiles
  const slope = (quartiles[1] - quartiles[0]) / (2 * qnorm75);
  const mid = (quartiles[0] + quartiles[1]) / 2;
  series.push(onGrid(gi, { type: 'line', symbol: 'none', clip: true,
    data: [[xr[0], mid + slope * xr[0]], [xr[1], mid + slope * xr[1]]],
    lineStyle: { color: '#a6a6a6', width: 1 } }));
}

const dprecSets = [dprecObsA, dprecObsB, dprecObsC, dprecObsD];
const tdPrecSets = [tdPrecObsA, tdPrecObsB, tdPrecObsC, tdPrecObsD];
const dprecAll = [].concat.apply([], dprecSets);
const tdPrecAll = [].concat.apply([], tdPrecSets);
const dprecRange = padRange(arrMin(dprecAll), arrMax(dprecAll));
const tdPrecRange = padRange(arrMin(tdPrecAll), arrMax(tdPrecAll));

boxPanel(0, 0, dprecBox, padRange(dprecBox[0], dprecBox[4]), dprecTicks, dprecTicks, fmtInt, 'dprec');
dataPanel(1, 0, dprecSets, dprecRange, dprecTicks, dprecTicks, fmtInt, 'dprec');
boxPanel(2, 0, tdPrecBox, padRange(tdPrecBox[0], tdPrecBox[4]), tdPrecTicks, tdPrecTickLabels, fmt2, 'tdPrec');
dataPanel(3, 0, tdPrecSets, tdPrecRange, tdPrecTicks, tdPrecTickLabels, fmt2, 'tdPrec');

histPanel(0, 1, dprecBreaks, dprecDensity, dprecKde, dprecNormal,
          dprecHistXTicks, dprecHistXTicks, fmtInt, dprecHistYTicks, dprecHistYLabels, fmt2, 'dprec');
qqPanel(1, 1, dprecQQ, dprecQQTails, [dprecBox[1], dprecBox[3]], dprecRange, dprecTicks, dprecTicks, fmtInt);
histPanel(2, 1, tdPrecBreaks, tdPrecDensity, tdPrecKde, tdPrecNormal,
          tdPrecHistXTicks, tdPrecHistXLabels, fmt2, tdPrecHistYTicks, tdPrecHistYTicks, fmtInt, 'tdPrec');
qqPanel(3, 1, tdPrecQQ, tdPrecQQTails, [tdPrecBox[1], tdPrecBox[3]], tdPrecRange, tdPrecTicks, tdPrecTickLabels, fmt2);

const chart = echarts.init(document.getElementById('chart'), null, { renderer: 'canvas' });
chart.setOption({
  animation: false,
  backgroundColor: '#fff',
  textStyle: { fontFamily: FONT },
  grid: grids,
  xAxis: xAxes,
  yAxis: yAxes,
  series: series,
  graphic: texts
});
</script>
</body>
</html>
